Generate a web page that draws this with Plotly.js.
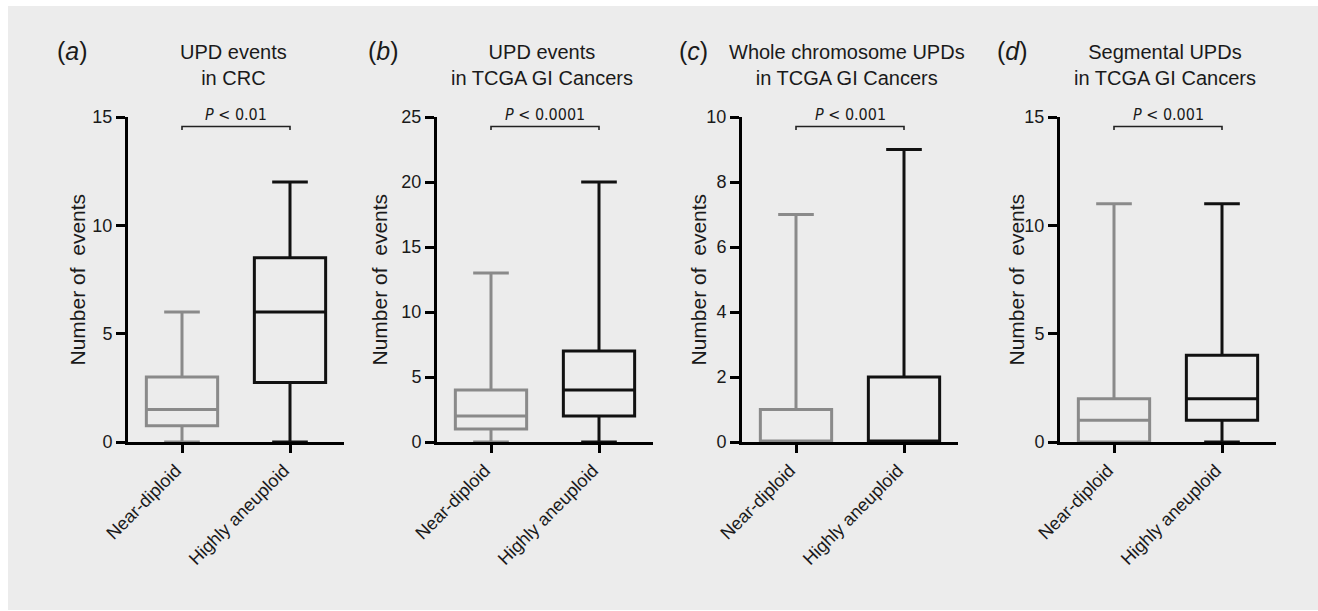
<!DOCTYPE html>
<html>
<head>
<meta charset="utf-8">
<script src="https://cdn.plot.ly/plotly-3.0.1.min.js"></script>
<style>html,body{margin:0;padding:0;background:#ececec;overflow:hidden;}#chart{width:1318px;height:611px;}</style>
</head>
<body>
<div id="chart"></div>
<script>
// ---------- data ----------
const categories = ['Near-diploid', 'Highly aneuploid'];
const panelLabels = ['a', 'b', 'c', 'd'];
const panelTitles = [
  'UPD events<br>in CRC',
  'UPD events<br>in TCGA GI Cancers',
  'Whole chromosome UPDs<br>in TCGA GI Cancers',
  'Segmental UPDs<br>in TCGA GI Cancers'
];
const pValues = ['0.01', '0.0001', '0.001', '0.001'];
const yMax = [15, 25, 10, 15];
const yDtick = [5, 5, 2, 5];
const yTitle = 'Number of\u00a0 events';

// Near-diploid box statistics per panel
const ndMin    = [0, 0, 0, 0];
const ndQ1     = [0.75, 1, 0, 0];
const ndMedian = [1.5, 2, 0, 1];
const ndQ3     = [3, 4, 1, 2];
const ndMax    = [6, 13, 7, 11];

// Highly aneuploid box statistics per panel
const haMin    = [0, 0, 0, 0];
const haQ1     = [2.75, 2, 0, 1];
const haMedian = [6, 4, 0, 2];
const haQ3     = [8.5, 7, 2, 4];
const haMax    = [12, 20, 9, 11];

// ---------- layout helpers ----------
const W = 1318, H = 611;
const axisLeftPx = [128, 437, 742, 1060];
const plotWidthPx = 216;
const plotTopPx = 117, plotBottomPx = 442;
const yTitleShift = [-51, -58, -44, -44];
const labelShift = [-56, -54, -49, -48];

const mainFont = 'Liberation Sans, Arial, Helvetica, sans-serif';
const narrowFont = 'Liberation Sans Narrow, Arial Narrow, DejaVu Sans Condensed, sans-serif';
const textColor = '#1a1a1a';
const grayCol = '#8a8a8a';
const blackCol = '#111111';

const py = px => 1 - px / H;

const traces = [];
const layout = {
  width: W, height: H,
  margin: {l: 0, r: 0, t: 0, b: 0},
  paper_bgcolor: '#ececec',
  plot_bgcolor: 'rgba(0,0,0,0)',
  showlegend: false,
  boxmode: 'overlay',
  font: {family: mainFont, color: textColor, size: 18},
  shapes: [
    {type: 'rect', xref: 'paper', yref: 'paper', layer: 'below',
     x0: 0, x1: 1, y0: py(6), y1: 1, fillcolor: '#ffffff', line: {width: 0}},
    {type: 'rect', xref: 'paper', yref: 'paper', layer: 'below',
     x0: 0, x1: 8 / W, y0: 0, y1: 1, fillcolor: '#ffffff', line: {width: 0}},
    {type: 'rect', xref: 'paper', yref: 'paper', layer: 'below',
     x0: 0, x1: 1, y0: 0, y1: py(610), fillcolor: '#ffffff', line: {width: 0}}
  ],
  annotations: []
};

for (let i = 0; i < 4; i++) {
  const n = i === 0 ? '' : String(i + 1);
  const xa = 'x' + n, ya = 'y' + n;
  const series = [
    {name: categories[0], col: grayCol, lo: ndMin[i], q1: ndQ1[i], med: ndMedian[i], q3: ndQ3[i], hi: ndMax[i]},
    {name: categories[1], col: blackCol, lo: haMin[i], q1: haQ1[i], med: haMedian[i], q3: haQ3[i], hi: haMax[i]}
  ];
  series.forEach(s => {
    traces.push({
      type: 'box', xaxis: xa, yaxis: ya,
      x: [s.name], q1: [s.q1], median: [s.med], q3: [s.q3],
      lowerfence: [s.lo], upperfence: [s.hi],
      boxpoints: false, width: 0.66, whiskerwidth: 0.5,
      line: {color: s.col, width: 3},
      fillcolor: 'rgba(0,0,0,0)',
      hoverinfo: 'skip'
    });
  });

  const x0 = axisLeftPx[i] / W, x1 = (axisLeftPx[i] + plotWidthPx) / W;
  layout['xaxis' + n] = {
    domain: [x0, x1], anchor: ya,
    type: 'category', categoryorder: 'array', categoryarray: categories,
    range: [-0.5, 1.5], fixedrange: true,
    showline: true, linecolor: '#000', linewidth: 3,
    ticks: 'outside', ticklen: 8, tickwidth: 3, tickcolor: '#000',
    tickangle: -45, ticklabelshift: -6,
    tickfont: {family: mainFont, size: 18, color: textColor},
    showgrid: false, zeroline: false, layer: 'below traces'
  };
  layout['yaxis' + n] = {
    domain: [py(plotBottomPx), py(plotTopPx)], anchor: xa,
    range: [0, yMax[i]], dtick: yDtick[i], tick0: 0, fixedrange: true,
    showline: true, linecolor: '#000', linewidth: 3,
    ticks: 'outside', ticklen: 9, tickwidth: 3, tickcolor: '#000',
    tickfont: {family: mainFont, size: 18, color: textColor},
    showgrid: false, zeroline: false, layer: 'below traces'
  };

  // panel label
  layout.annotations.push({
    xref: xa + ' domain', yref: 'paper', x: 0, xshift: labelShift[i], y: py(51),
    xanchor: 'center', yanchor: 'middle', showarrow: false,
    text: '(<i>' + panelLabels[i] + '</i>)', font: {family: mainFont, size: 25, color: textColor}
  });
  // panel title
  layout.annotations.push({
    xref: xa + ' domain', yref: 'paper', x: 0.5, xshift: -3, y: py(65),
    xanchor: 'center', yanchor: 'middle', showarrow: false, align: 'center',
    text: panelTitles[i], font: {family: mainFont, size: 20, color: textColor}
  });
  // y axis title
  layout.annotations.push({
    xref: xa + ' domain', yref: ya + ' domain', x: 0, xshift: yTitleShift[i], y: 0.5,
    xanchor: 'center', yanchor: 'middle', showarrow: false, textangle: -90,
    text: yTitle, font: {family: mainFont, size: 21, color: textColor}
  });
  // P value
  layout.annotations.push({
    xref: xa, yref: 'paper', x: 0.5, y: py(114.5),
    xanchor: 'center', yanchor: 'middle', showarrow: false,
    text: '<i>P</i> &lt; ' + pValues[i], font: {family: narrowFont, size: 16, color: textColor}
  });
  // bracket
  layout.shapes.push({
    type: 'path', xref: xa, yref: 'paper',
    path: `M 0,${py(130)} L 0,${py(126.5)} L 1,${py(126.5)} L 1,${py(130)}`,
    line: {color: '#222', width: 1.6}
  });
}

Plotly.newPlot('chart', traces, layout, {displayModeBar: false, staticPlot: true});
</script>
</body>
</html>
